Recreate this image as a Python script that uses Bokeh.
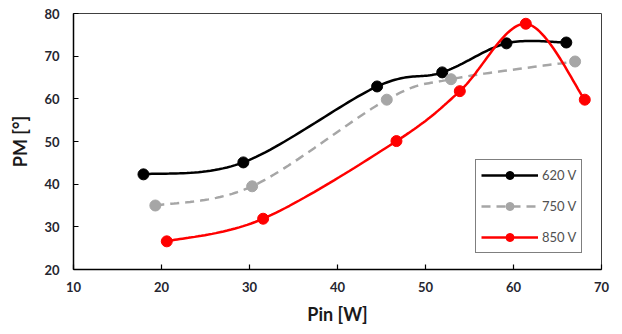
import numpy as np
from bokeh.plotting import figure
from bokeh.models import Legend, LegendItem, FixedTicker
from bokeh.embed import file_html
from bokeh.resources import INLINE

# Data
pin_620 = [17.95, 29.3, 44.5, 51.9, 59.2, 66.0]
pm_620 = [42.3, 45.1, 62.9, 66.2, 73.0, 73.2]
pin_750 = [19.3, 30.3, 45.6, 52.9, 67.0]
pm_750 = [35.0, 39.5, 59.8, 64.6, 68.75]
pin_850 = [20.6, 31.55, 46.7, 53.9, 61.4, 68.1]
pm_850 = [26.6, 31.9, 50.1, 61.8, 77.6, 59.8]
x_ticks = [10, 20, 30, 40, 50, 60, 70]
y_ticks = [20, 30, 40, 50, 60, 70, 80]

FW, FH = 528, 256
XR, YR = (10, 70), (20, 80)
sx = FW / (XR[1] - XR[0])
sy = FH / (YR[1] - YR[0])


def smooth(xs, ys, n=30):
    # Excel-like smoothed line (Catmull-Rom Bezier) computed in screen space
    P = np.column_stack([np.array(xs) * sx, np.array(ys) * sy])
    out = []
    m = len(P)
    for i in range(m - 1):
        p0 = P[i - 1] if i > 0 else P[i]
        p1 = P[i]
        p2 = P[i + 1]
        p3 = P[i + 2] if i + 2 < m else P[i + 1]
        c1 = p1 + (p2 - p0) / 6.0
        c2 = p2 - (p3 - p1) / 6.0
        t = np.linspace(0, 1, n)[:, None]
        seg = ((1 - t) ** 3) * p1 + 3 * ((1 - t) ** 2) * t * c1 + 3 * (1 - t) * t ** 2 * c2 + t ** 3 * p2
        out.append(seg if i == 0 else seg[1:])
    pts = np.vstack(out)
    return pts[:, 0] / sx, pts[:, 1] / sy


p = figure(width=622, height=334, frame_width=FW, frame_height=FH,
           x_range=XR, y_range=YR, output_backend="svg", toolbar_location=None,
           min_border_left=73, min_border_right=21, min_border_top=13, min_border_bottom=65)
p.grid.visible = False
p.outline_line_color = "#404040"
p.outline_line_width = 1
p.background_fill_color = "white"
p.border_fill_color = "white"

FONT = "Lato"
for ax in (p.xaxis[0], p.yaxis[0]):
    ax.axis_line_color = "black"
    ax.axis_line_width = 1.5
    ax.major_tick_in = 5
    ax.major_tick_out = 0
    ax.major_tick_line_color = "black"
    ax.major_tick_line_width = 1.2
    ax.minor_tick_line_color = None
    ax.major_label_text_font = FONT
    ax.major_label_text_font_style = "bold"
    ax.major_label_text_font_size = "13px"
    ax.major_label_text_color = "#262630"
    ax.axis_label_text_font = FONT
    ax.axis_label_text_font_style = "bold"
    ax.axis_label_text_font_size = "18px"
    ax.axis_label_text_color = "#1a1a1a"

p.xaxis[0].ticker = FixedTicker(ticks=x_ticks)
p.yaxis[0].ticker = FixedTicker(ticks=y_ticks)
p.xaxis[0].axis_label = "Pin [W]"
p.yaxis[0].axis_label = "PM [°]"
p.xaxis[0].major_label_standoff = 12
p.yaxis[0].major_label_standoff = 14
p.xaxis[0].axis_label_standoff = 8
p.yaxis[0].axis_label_standoff = 10

series = [
    (pin_620, pm_620, "black", "black", None, "620 V"),
    (pin_750, pm_750, "#a6a6a6", "#a6a6a6", "9 6", "750 V"),
    (pin_850, pm_850, "#ff0000", "#ff0000", None, "850 V"),
]
items = []
for xs, ys, lc, mc, dash, lab in series:
    cx, cy = smooth(xs, ys)
    kw = dict(line_color=lc, line_width=2.5)
    if dash:
        kw["line_dash"] = dash
    r1 = p.line(cx, cy, **kw)
    r2 = p.scatter(xs, ys, size=11, marker="circle", fill_color=mc, line_color=mc)
    items.append(LegendItem(label=lab, renderers=[r1, r2]))

legend = Legend(items=items, location=(402, 16), orientation="vertical",
                glyph_width=57, glyph_height=20, label_standoff=4,
                spacing=11, padding=5, margin=0,
                border_line_color="black", border_line_width=1.2,
                background_fill_color="white", background_fill_alpha=1,
                label_text_font=FONT, label_text_font_size="13px",
                label_text_color="#505050")
p.add_layout(legend, "center")

open("out.html", "w").write(file_html(p, INLINE))
